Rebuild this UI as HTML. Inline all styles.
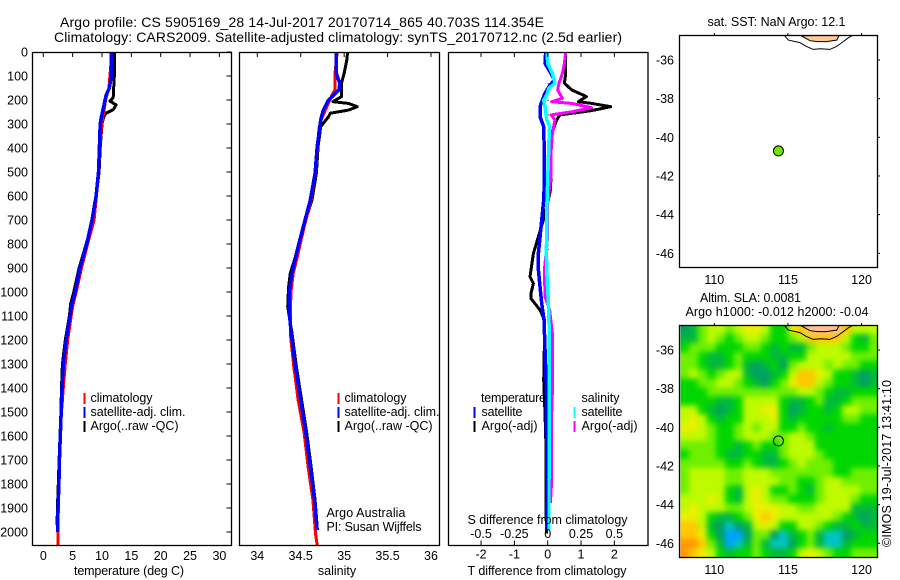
<!DOCTYPE html>
<html>
<head>
<meta charset="utf-8">
<title>Argo profile</title>
<style>
html,body{margin:0;padding:0;background:#fff;}
svg{display:block;}
text{font-family:"Liberation Sans",sans-serif;font-size:12.5px;fill:#000;}
.m{text-anchor:middle;}
.e{text-anchor:end;}
</style>
</head>
<body>
<svg id="chart" xmlns="http://www.w3.org/2000/svg" width="900" height="580" viewBox="0 0 900 580">
<rect width="900" height="580" fill="#fff"/>
<defs>
<clipPath id="clipMap1"><rect x="679.5" y="35.5" width="198" height="232"/></clipPath>
<clipPath id="clipMap2"><rect x="680.5" y="325.5" width="197" height="232"/></clipPath>
<filter id="soft" filterUnits="userSpaceOnUse" x="640" y="290" width="260" height="290" color-interpolation-filters="sRGB"><feGaussianBlur stdDeviation="2.8"/></filter>
</defs>
<text x="60" y="27" font-size="14" style="font-size:14px" textLength="484">Argo profile: CS 5905169_28 14-Jul-2017 20170714_865 40.703S 114.354E</text>
<text x="54" y="42" style="font-size:14px" textLength="568">Climatology: CARS2009. Satellite-adjusted climatology: synTS_20170712.nc (2.5d earlier)</text>
<g id="heat" clip-path="url(#clipMap2)"><g id="heatCells" filter="url(#soft)"></g></g>
<g id="plots"></g>

<text class="m" x="129" y="575" textLength="110">temperature (deg C)</text>
<text class="m" x="337" y="575">salinity</text>
<text x="467.5" y="575" textLength="159">T difference from climatology</text>
<text x="467.5" y="524" textLength="160">S difference from climatology</text>

<text x="90.5" y="402" textLength="62">climatology</text>
<text x="90.5" y="416" textLength="95">satellite-adj. clim.</text>
<text x="90.5" y="430" textLength="88">Argo(..raw -QC)</text>
<text x="344.5" y="402" textLength="62">climatology</text>
<text x="344.5" y="416" textLength="95">satellite-adj. clim.</text>
<text x="344.5" y="430" textLength="88">Argo(..raw -QC)</text>
<text x="326.5" y="517" textLength="79">Argo Australia</text>
<text x="326.5" y="531" textLength="95">PI: Susan Wijffels</text>
<text x="481" y="402" textLength="65">temperature</text>
<text x="481.5" y="416" textLength="41">satellite</text>
<text x="481.5" y="430" textLength="56">Argo(-adj)</text>
<text x="581.5" y="402" textLength="38">salinity</text>
<text x="581.5" y="416" textLength="41">satellite</text>
<text x="581.5" y="430" textLength="56">Argo(-adj)</text>

<text x="707.5" y="26" textLength="138">sat. SST: NaN Argo: 12.1</text>
<text x="700" y="302" textLength="101">Altim. SLA: 0.0081</text>
<text x="685.5" y="316" textLength="183">Argo h1000: -0.012 h2000: -0.04</text>
<text transform="translate(891,547) rotate(-90)" textLength="167">©IMOS 19-Jul-2017 13:41:10</text>
</svg>
<script>
// Depth levels and profile values
const tempBlackDepth = [0,100,190,205,220,240,255,270,300,400,500,600,700,800,900,1000,1050,1100,1200,1300,1400,1500,1600,1700,1800,1900,1970];
const tempBlack = [12.15,12.1,11.9,11.35,12.4,11.9,10.7,10.3,10.0,9.7,9.5,9.0,8.4,7.3,6.1,5.2,4.65,4.45,3.75,3.25,3.1,3.0,2.85,2.7,2.55,2.4,2.35];
const tempBlueDepth = [0,100,150,180,220,270,300,400,500,600,700,800,900,1000,1050,1100,1200,1300,1400,1500,1600,1700,1800,1900,2000];
const tempBlue = [11.6,11.6,11.25,10.7,10.35,9.9,9.7,9.55,9.4,9.0,8.3,7.4,6.25,5.45,4.85,4.55,3.9,3.4,3.2,3.05,2.9,2.75,2.65,2.5,2.45];
const tempRedDepth = [0,100,150,200,250,300,400,500,600,700,800,900,1000,1050,1100,1200,1300,1400,1500,1600,1700,1800,1900,2055];
const tempRed = [11.7,11.35,11.2,10.6,10.3,9.95,9.6,9.45,9.05,8.65,7.55,6.5,5.6,5.1,4.75,4.15,3.75,3.4,3.1,2.9,2.75,2.65,2.55,2.5];

const salBlackDepth = [0,33,89,130,186,207,214,228,242,255,270,311,394,505,617,728,839,922,978,1061,1172,1311,1450,1589,1728,1867,1978];
const salBlack = [35.04,35.03,35.0,34.97,34.97,34.87,35.05,35.15,35.05,34.84,34.82,34.73,34.7,34.68,34.63,34.53,34.45,34.38,34.36,34.35,34.4,34.45,34.51,34.57,34.62,34.665,34.69];
const salBlueDepth = [0,89,130,158,179,200,242,283,339,394,505,617,728,839,922,992,1075,1172,1311,1450,1589,1728,1867,1992];
const salBlue = [34.91,34.91,34.95,34.94,34.88,34.82,34.76,34.73,34.71,34.69,34.665,34.61,34.53,34.45,34.4,34.37,34.365,34.39,34.44,34.5,34.56,34.61,34.66,34.69];
const salRedDepth = [0,89,158,179,228,283,318,394,505,617,728,839,922,992,1075,1172,1311,1450,1589,1728,1867,2006,2055];
const salRed = [34.92,34.895,34.895,34.86,34.8,34.735,34.71,34.695,34.67,34.62,34.54,34.47,34.415,34.39,34.38,34.38,34.42,34.47,34.54,34.585,34.64,34.67,34.69];

const diffTArgoDepth = [0,89,130,158,186,207,214,228,244,262,283,339,422,519,575,630,700,769,839,908,936,964,1006,1027,1075,1116,1214,1367,1506,1644,1783,1922,2006];
const diffTArgo = [0.54,0.54,0.5,0.72,1.16,0.92,1.32,1.89,1.32,0.37,0.27,0.12,0.08,0.1,0.08,0,-0.13,-0.28,-0.43,-0.5,-0.53,-0.43,-0.5,-0.5,-0.23,-0.1,-0.1,-0.12,-0.08,-0.05,-0.05,-0.05,-0.03];
const diffTSatDepth = [0,47,89,117,144,172,200,228,269,311,367,533,617,700,839,908,977,1047,1116,1236,1367,1506,1783,1992];
const diffTSat = [-0.06,-0.08,0.1,0.2,0.04,-0.08,-0.16,-0.23,-0.23,-0.12,-0.11,-0.1,-0.12,-0.18,-0.28,-0.28,-0.23,-0.18,-0.11,-0.08,-0.05,-0.04,-0.03,-0.02];
const diffSSatDepth = [0,47,89,130,150,179,200,228,283,311,367,533,630,839,908,1047,1186,1367,1644,1783,1992];
const diffSSat = [-0.005,0,0.035,0.055,0.01,-0.0075,-0.03,-0.02,-0.0075,0.015,0.01,0,-0.005,-0.01,-0.0075,0.005,0.0125,0.0125,0.0125,0.01,0.01];
const diffSArgoDepth = [0,47,89,130,158,193,207,214,232,249,262,283,339,422,519,630,769,908,1020,1075,1186,1367,1506,1644,1783,1880];
const diffSArgo = [0.135,0.125,0.11,0.085,0.075,0.11,0.03,0.18,0.33,0.18,0.025,0.055,0.035,0.025,0.025,0,0,-0.025,-0.02,0.015,0.0375,0.0375,0.03,0.03,0.03,0.02];
const zeroDots = [130,200,260,320,380,440,560,640,700,760,820,880,940,1000,1060,1120];

const tempTicks = [0,5,10,15,20,25,30];
const salTicks = [34,34.5,35,35.5,36];
const salTickLabels = ['34','34.5','35','35.5','36'];
const depthTicks = [0,100,200,300,400,500,600,700,800,900,1000,1100,1200,1300,1400,1500,1600,1700,1800,1900,2000];
const tDiffTicks = [-2,-1,0,1,2];
const sDiffTicks = [-0.5,-0.25,0,0.25,0.5];
const sDiffTickLabels = ['-0.5','-0.25','0','0.25','0.5'];
const lonTicks = [110,115,120];
const latTicks = [-36,-38,-40,-42,-44,-46];

const contourOuterLon = [114.73,115.03,115.82,116.2,116.72,117.2,117.85,118.3,118.76,119.1,119.44];
const contourOuterLat = [-34.71,-34.97,-35.1,-35.28,-35.45,-35.42,-35.45,-35.3,-35.05,-34.85,-34.71];
const contourInnerLon = [115.89,116.5,117.0,117.63,118.0,118.31,118.49];
const contourInnerLat = [-34.75,-35.0,-35.05,-35.05,-35.0,-34.97,-34.71];
const floatLon = 114.354;
const floatLat = -40.703;

// SLA colour-level grid: 0 cyan-blue .. 10 peach, estimated by eye from the map
const slaLevels = ['#00a0ff','#00c4c4','#00a064','#00b93c','#00d700','#6ef000','#befa00','#ebf000','#ffc800','#ff9600','#ffbe8c'];
const slaRows = [
[2,3,5,6,6,5,6,7,7,6,4,4,7,8,10,10,10,10,8,6,6,6],
[3,3,5,6,5,4,5,6,6,5,4,4,5,6,8,8,8,8,6,4,3,5],
[4,5,5,5,4,4,4,5,5,4,3,4,3,3,5,6,6,6,5,4,4,5],
[5,5,4,3,3,4,5,4,4,4,3,3,4,4,6,6,6,6,6,5,5,5],
[5,5,4,3,3,4,5,3,2,3,4,2,5,6,6,6,5,6,5,5,4,4],
[5,6,5,4,5,6,6,3,2,2,3,4,6,8,8,7,6,4,4,3,2,3],
[4,4,5,5,6,6,5,4,3,2,4,5,7,8,8,6,5,4,4,3,2,3],
[4,4,4,5,5,5,5,5,5,5,5,5,5,6,6,5,4,3,3,4,4,4],
[4,4,4,4,3,3,4,6,6,6,6,4,3,3,4,5,3,3,4,5,5,5],
[6,6,4,3,2,3,4,6,6,7,7,4,2,3,4,4,3,4,6,6,5,5],
[6,7,6,4,3,4,4,6,6,6,7,4,3,4,4,4,4,4,5,5,4,4],
[7,7,6,5,4,4,5,6,5,6,6,4,4,5,4,4,3,4,4,4,4,4],
[6,6,6,5,4,4,5,6,6,6,5,5,6,6,5,4,4,4,4,4,4,4],
[5,5,5,5,4,4,3,4,5,4,4,5,6,6,6,4,4,4,4,4,4,4],
[4,5,5,5,4,3,3,4,4,3,3,5,6,6,6,5,4,4,4,4,4,4],
[5,5,5,5,5,4,4,5,4,3,3,4,5,6,5,5,5,4,4,4,4,4],
[5,6,6,6,6,5,5,6,6,6,5,5,5,5,5,5,5,4,4,5,5,5],
[5,6,6,6,6,5,5,6,6,6,6,5,5,4,4,5,6,6,5,5,5,5],
[5,6,6,6,6,4,3,6,7,6,4,4,5,4,3,5,6,6,6,6,5,5],
[6,6,6,7,6,4,3,6,7,6,5,5,4,4,4,5,6,6,6,5,4,4],
[6,7,6,6,6,5,5,6,7,7,7,6,6,5,5,6,6,6,6,3,3,3],
[7,7,6,4,3,3,4,5,7,8,7,6,6,6,6,6,6,5,4,3,2,3],
[8,8,6,3,2,1,2,3,6,7,6,4,4,6,6,5,4,3,3,4,3,3],
[8,8,7,4,2,0,0,2,5,5,2,1,3,4,5,3,1,1,2,3,4,4],
[9,9,8,5,3,0,1,3,5,3,1,1,2,4,5,3,1,1,3,4,4,4],
[9,8,7,6,4,3,4,4,5,4,3,3,4,6,7,6,5,4,4,5,5,5]
];

const NS = 'http://www.w3.org/2000/svg';
const plots = document.getElementById('plots');
function svgEl(tag, parent, attrs) {
  const el = document.createElementNS(NS, tag);
  for (const k in attrs) el.setAttribute(k, attrs[k]);
  parent.appendChild(el);
  return el;
}
const yDepth = d => 52 + d * 0.24;
const xTemp = t => 43.3 + t * 5.87;
const xSal = s => 257.3 + (s - 34) * 86.85;
const xTDiff = t => 547.7 + t * 33.33;
const xSDiff = s => 547.7 + s * 133.3;
const xLon = lon => 714.3 + (lon - 110) * 14.73;
const yLat1 = lat => 60 + (-36 - lat) * 19.33;
const yLat2 = lat => 350 + (-36 - lat) * 19.33;

function linePoints(values, depths, xf) {
  return values.map((v, i) => xf(v).toFixed(1) + ',' + yDepth(depths[i]).toFixed(1)).join(' ');
}
function profile(name, values, depths, xf, color, width) {
  const el = svgEl('polyline', plots, {points: linePoints(values, depths, xf), fill: 'none', stroke: color, 'stroke-width': width, 'shape-rendering': 'crispEdges', 'stroke-linejoin': 'round'});
  
  
}
function frame(name, x, y, w, h) {
  const el = svgEl('rect', plots, {x: x, y: y, width: w, height: h, fill: 'none', stroke: '#000', 'stroke-width': 1.3});
  
  
}
function tick(x1, y1, x2, y2) {
  const el = svgEl('line', plots, {x1: x1, y1: y1, x2: x2, y2: y2, stroke: '#000', 'stroke-width': 1});
  
  
}
function label(str, x, y, cls) {
  const el = svgEl('text', plots, {x: x, y: y, class: cls || 'm'});
  el.textContent = str;
  
  
}
function legendBar(name, x, y, color) {
  const el = svgEl('rect', plots, {x: x, y: y, width: 2, height: 11, fill: color});
  
  
}

// Heatmap cells
const heatCells = document.getElementById('heatCells');
const cellW = 198 / slaRows[0].length;
const cellH = 232 / slaRows.length;
slaRows.forEach((row, r) => {
  row.forEach((val, c) => {
    const x0 = 680 + c * cellW - (c === 0 ? 16 : 0);
    const x1 = 680 + (c + 1) * cellW + (c === row.length - 1 ? 16 : 0.4);
    const y0 = 325 + r * cellH - (r === 0 ? 16 : 0);
    const y1 = 325 + (r + 1) * cellH + (r === slaRows.length - 1 ? 16 : 0.4);
    const cell = svgEl('rect', heatCells, {x: x0, y: y0, width: x1 - x0, height: y1 - y0, fill: slaLevels[val]});
    
    
  });
});

// Temperature panel
profile('temperature-argo-line', tempBlack, tempBlackDepth, xTemp, '#000', 3);
profile('temperature-climatology-line', tempRed, tempRedDepth, xTemp, '#f00', 3);
profile('temperature-satellite-line', tempBlue, tempBlueDepth, xTemp, '#00f', 3.5);
frame('temperature-panel-frame', 32.5, 52.5, 199, 493);
tempTicks.forEach(t => {
  tick(xTemp(t), 52.5, xTemp(t), 57);
  label(String(t), xTemp(t), 560);
});
depthTicks.forEach(d => {
  tick(226.5, yDepth(d), 231.5, yDepth(d));
  label(String(d), 28, yDepth(d) + 4.5, 'e');
});
legendBar('legend-temp-climatology-swatch', 83.5, 393, '#f00');
legendBar('legend-temp-satellite-swatch', 83.5, 407, '#00f');
legendBar('legend-temp-argo-swatch', 83.5, 421, '#000');

// Salinity panel
profile('salinity-argo-line', salBlack, salBlackDepth, xSal, '#000', 3);
profile('salinity-climatology-line', salRed, salRedDepth, xSal, '#f00', 3);
profile('salinity-satellite-line', salBlue, salBlueDepth, xSal, '#00f', 3.5);
frame('salinity-panel-frame', 239.5, 52.5, 200, 493);
salTicks.forEach((s, i) => {
  tick(xSal(s), 52.5, xSal(s), 57);
  label(salTickLabels[i], xSal(s), 560);
});
legendBar('legend-sal-climatology-swatch', 337.5, 393, '#f00');
legendBar('legend-sal-satellite-swatch', 337.5, 407, '#00f');
legendBar('legend-sal-argo-swatch', 337.5, 421, '#000');

// Difference panel
zeroDots.forEach(d => {
  const dot = svgEl('rect', plots, {x: xTDiff(0), y: yDepth(d), width: 1, height: 1, fill: '#000'});
  
  
});
profile('t-difference-argo-line', diffTArgo, diffTArgoDepth, xTDiff, '#000', 3);
profile('s-difference-argo-line', diffSArgo, diffSArgoDepth, xSDiff, '#f0f', 3);
profile('t-difference-satellite-line', diffTSat, diffTSatDepth, xTDiff, '#00f', 3.5);
profile('s-difference-satellite-line', diffSSat, diffSSatDepth, xSDiff, '#0ff', 3.5);
frame('difference-panel-frame', 448.5, 52.5, 199.5, 493);
tDiffTicks.forEach(t => {
  tick(xTDiff(t), 52.5, xTDiff(t), 57);
  tick(xTDiff(t), 540.5, xTDiff(t), 545.5);
  label(String(t), xTDiff(t), 558.5);
});
sDiffTicks.forEach((s, i) => {
  label(sDiffTickLabels[i], xSDiff(s), 538);
});
legendBar('legend-diff-t-satellite-swatch', 473.5, 407, '#00f');
legendBar('legend-diff-t-argo-swatch', 473.5, 421, '#000');
legendBar('legend-diff-s-satellite-swatch', 573.5, 407, '#0ff');
legendBar('legend-diff-s-argo-swatch', 573.5, 421, '#f0f');

// Maps
function contourPts(lons, lats, yf) {
  return lons.map((lon, i) => xLon(lon).toFixed(1) + ',' + yf(lats[i]).toFixed(1)).join(' ');
}
function drawMap(prefix, top, yf, clipId, withFill) {
  const g = svgEl('g', plots, {'clip-path': 'url(#' + clipId + ')'});
  
  
  const inner = svgEl('polygon', g, {points: contourPts(contourInnerLon, contourInnerLat, yf), fill: withFill ? '#ffc896' : '#ffbe8c', stroke: '#000', 'stroke-width': 1});
  
  
  const outer = svgEl('polyline', g, {points: contourPts(contourOuterLon, contourOuterLat, yf), fill: 'none', stroke: '#000', 'stroke-width': 1});
  
  
  frame(prefix + '-frame', 679.5, top + 0.5, 198, 232);
  lonTicks.forEach(lon => {
    tick(xLon(lon), top - 2, xLon(lon), top + 0.5);
    label(String(lon), xLon(lon), top + 249);
  });
  latTicks.forEach(lat => {
    tick(877.5, yf(lat), 880, yf(lat));
    label(String(lat), 674, yf(lat) + 4.5, 'e');
  });
}
drawMap('sst-map', 35, yLat1, 'clipMap1', true);
drawMap('sla-map', 325, yLat2, 'clipMap2', false);

const mk1 = svgEl('circle', plots, {cx: xLon(floatLon), cy: yLat1(floatLat), r: 5, fill: '#6ee600', stroke: '#000', 'stroke-width': 1});


const mk2 = svgEl('circle', plots, {cx: xLon(floatLon), cy: yLat2(floatLat), r: 5, fill: 'none', stroke: '#000', 'stroke-width': 1});


</script>
</body>
</html>
